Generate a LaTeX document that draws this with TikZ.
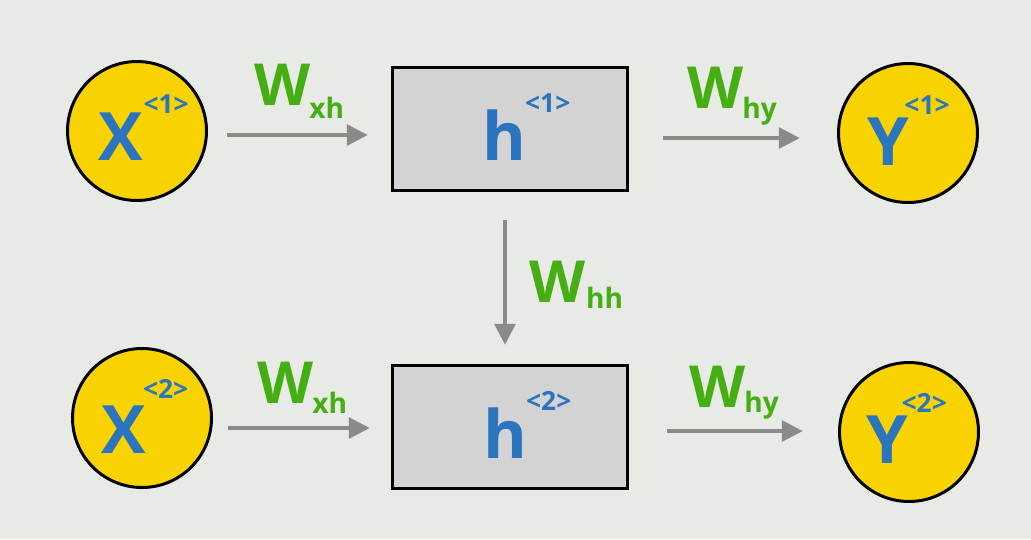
\documentclass[tikz,border=0pt]{standalone}
\usepackage{fontspec}
\setmainfont{Open Sans}
\usetikzlibrary{arrows.meta}
\definecolor{bgc}{HTML}{E8EAE6}
\definecolor{yel}{HTML}{F9D300}
\definecolor{blu}{HTML}{2B74BE}
\definecolor{grn}{HTML}{45AE12}
\definecolor{arr}{HTML}{8A8A8A}
\definecolor{boxc}{HTML}{D3D3D3}
\tikzset{
  circ/.style={circle,draw=black,line width=1.7pt,fill=yel,minimum size=2.78cm,inner sep=0pt},
  hbox/.style={rectangle,draw=black,line width=1.7pt,fill=boxc,minimum width=4.72cm,minimum height=2.46cm,inner sep=0pt},
  big/.style={anchor=base west,inner sep=0pt,text=blu,font=\bfseries\fontsize{38}{38}\selectfont},
  sup/.style={anchor=base west,inner sep=0pt,text=blu,font=\bfseries\fontsize{15}{15}\selectfont},
  wlab/.style={anchor=base west,inner sep=0pt,text=grn,font=\bfseries\fontsize{33}{33}\selectfont},
  wsub/.style={anchor=base west,inner sep=0pt,text=grn,font=\bfseries\fontsize{16}{16}\selectfont},
  conn/.style={draw=arr,line width=2.8pt,-{Triangle[length=12pt,width=11.5pt]}}
}
\begin{document}
\begin{tikzpicture}[x=0.02cm,y=-0.02cm]
\fill[bgc] (0,0) rectangle (1031,539);
\useasboundingbox (0,0) rectangle (1031,539);
% nodes
\node[circ] (x1) at (137,131) {};
\node[circ] (x2) at (142,418) {};
\node[circ] (y1) at (908,133) {};
\node[circ] (y2) at (909,432) {};
\node[hbox] (h1) at (510,129) {};
\node[hbox] (h2) at (510,427) {};
% texts
\node[big] (x1t) at (98,160) {X};
\node[sup] (x1s) at ([xshift=0pt,yshift=26.5pt]x1t.base east) {<1>};
\node[big] (x2t) at (101,453) {X};
\node[sup] (x2s) at ([xshift=-2pt,yshift=31pt]x2t.base east) {<2>};
\node[big] (y1t) at (867,165) {Y};
\node[sup] (y1s) at ([xshift=-3pt,yshift=29pt]y1t.base east) {<1>};
\node[big] (y2t) at (866,463) {Y};
\node[sup] (y2s) at ([xshift=-4pt,yshift=29pt]y2t.base east) {<2>};
\node[big] (h1t) at (482,160) {h};
\node[sup] (h1s) at ([xshift=-1pt,yshift=27pt]h1t.base east) {<1>};
\node[big] (h2t) at (483,458) {h};
\node[sup] (h2s) at ([xshift=-1pt,yshift=27pt]h2t.base east) {<2>};
% weight labels
\node[wlab] (w1) at (254,105) {W};
\node[wsub] (w1s) at ([xshift=-1pt,yshift=-7.5pt]w1.base east) {xh};
\node[wlab] (w2) at (257,403) {W};
\node[wsub] (w2s) at ([xshift=-1pt,yshift=-6pt]w2.base east) {xh};
\node[wlab] (w3) at (687,108) {W};
\node[wsub] (w3s) at ([xshift=-1pt,yshift=-6pt]w3.base east) {hy};
\node[wlab] (w4) at (689,407) {W};
\node[wsub] (w4s) at ([xshift=-1pt,yshift=-3pt]w4.base east) {hy};
\node[wlab] (w5) at (529,302) {W};
\node[wsub] (w5s) at ([xshift=0pt,yshift=-3.5pt]w5.base east) {hh};
% connector coordinates
\coordinate (a1) at (227,135); \coordinate (b1) at (368,135);
\coordinate (a2) at (228,428); \coordinate (b2) at (370,428);
\coordinate (a3) at (663,138); \coordinate (b3) at (800,138);
\coordinate (a4) at (667,431); \coordinate (b4) at (803,431);
\coordinate (a5) at (505,220); \coordinate (b5) at (505,345);
\draw[conn] (a1) -- (b1);
\draw[conn] (a2) -- (b2);
\draw[conn] (a3) -- (b3);
\draw[conn] (a4) -- (b4);
\draw[conn] (a5) -- (b5);
\end{tikzpicture}
\end{document}
